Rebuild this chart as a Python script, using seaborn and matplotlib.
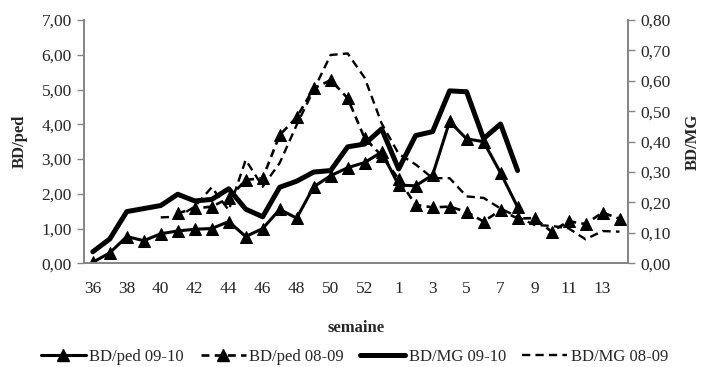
import numpy as np
import pandas as pd
import matplotlib
matplotlib.use("Agg")
import matplotlib.pyplot as plt
from matplotlib.ticker import FuncFormatter, FixedLocator, MultipleLocator
from matplotlib.lines import Line2D
import seaborn as sns

nan = np.nan
weeks = list(range(36, 54)) + list(range(1, 15))
tick_labels = [str(w) for w in weeks]

ped_0910 = [0.03, 0.30, 0.77, 0.65, 0.85, 0.93, 0.98, 1.00, 1.20, 0.77, 1.00, 1.55, 1.30,
            2.20, 2.52, 2.75, 2.90, 3.20, 2.25, 2.23, 2.54, 4.08, 3.58, 3.50, 2.60, 1.62] + [nan] * 6
ped_0809 = [nan] * 5 + [1.44, 1.58, 1.63, 1.87, 2.40, 2.45, 3.69, 4.20, 5.03, 5.27, 4.75, 3.60,
                        3.10, 2.42, 1.68, 1.61, 1.63, 1.48, 1.20, 1.53, 1.29, 1.30, 0.91, 1.21,
                        1.13, 1.46, 1.28]
mg_0910 = [0.038, 0.08, 0.17, 0.18, 0.19, 0.227, 0.205, 0.21, 0.245, 0.178, 0.153, 0.25, 0.27,
           0.30, 0.305, 0.383, 0.392, 0.442, 0.31, 0.42, 0.433, 0.567, 0.564, 0.41, 0.458,
           0.305] + [nan] * 6
mg_0809 = [nan] * 4 + [0.151, 0.153, 0.186, 0.25, 0.175, 0.34, 0.252, 0.33, 0.455, 0.57, 0.685,
                       0.69, 0.61, 0.46, 0.36, 0.325, 0.28, 0.28, 0.22, 0.215, 0.18, 0.153,
                       0.126, 0.123, 0.115, 0.079, 0.106, 0.104]

names = ["BD/ped 09-10", "BD/ped 08-09", "BD/MG 09-10", "BD/MG 08-09"]

sns.set_theme(style="white")
plt.rcParams['font.family'] = ['Liberation Serif', 'DejaVu Serif']

pos = np.arange(len(weeks))
df = pd.DataFrame({"pos": pos, "ped_0910": ped_0910, "ped_0809": ped_0809,
                   "mg_0910": mg_0910, "mg_0809": mg_0809})

fig = plt.figure(figsize=(7.09, 3.67), dpi=100)
ax = fig.add_axes([84.3 / 709, 1 - 263.3 / 367, (628 - 84.3) / 709, (263.3 - 20) / 367])
ax2 = ax.twinx()

gray = "#868686"
sty = {
    "ped_0910": dict(ax=ax, color="black", lw=2.2, linestyle="-", marker="^", markersize=8.5),
    "ped_0809": dict(ax=ax, color="black", lw=1.9, linestyle=(0, (3, 2)), marker="^", markersize=8.5),
    "mg_0910": dict(ax=ax2, color="black", lw=3.6, linestyle="-", marker=None),
    "mg_0809": dict(ax=ax2, color="black", lw=1.7, linestyle=(0, (3.5, 2.2)), marker=None),
}
for col in ["mg_0809", "ped_0809", "mg_0910", "ped_0910"]:
    s = sty[col]
    sub = df[["pos", col]].dropna()
    sns.lineplot(data=sub, x="pos", y=col, ax=s["ax"], color=s["color"], lw=s["lw"],
                 linestyle=s["linestyle"], marker=s["marker"], markersize=s.get("markersize", 0),
                 markeredgecolor="black", legend=False, sort=False)

for a in (ax, ax2):
    a.set_xlim(-0.5, len(weeks) - 0.5)
    for sp in a.spines.values():
        sp.set_color(gray)
        sp.set_linewidth(1.3)
    a.spines["top"].set_visible(False)
    a.grid(False)

ax.set_ylim(0, 7)
ax2.set_ylim(0, 0.8)
ax.yaxis.set_major_locator(MultipleLocator(1))
ax2.yaxis.set_major_locator(MultipleLocator(0.1))
fmt = FuncFormatter(lambda v, p: f"{v:.2f}".replace(".", ","))
ax.yaxis.set_major_formatter(fmt)
ax2.yaxis.set_major_formatter(fmt)

ax.set_xticks(pos[::2])
ax.set_xticklabels(tick_labels[::2])
ax.xaxis.set_minor_locator(FixedLocator(np.arange(-0.5, len(weeks), 1)))
ax.tick_params(axis="x", which="major", length=0, pad=13, labelsize=12.5)
ax.tick_params(axis="x", which="minor", length=5, width=1, color=gray, direction="out")
ax.tick_params(axis="y", which="major", length=5, width=1, color=gray, direction="out",
               labelsize=12.5, left=True, pad=4)
ax2.tick_params(axis="y", which="major", length=5, width=1, color=gray, direction="out",
                labelsize=12.5, right=True, pad=4)

ax.set_xlabel("semaine", fontsize=12, fontweight="bold", labelpad=16.5)
ax.set_ylabel("BD/ped", fontsize=12, fontweight="bold", labelpad=10)
ax2.set_ylabel("BD/MG", fontsize=12, fontweight="bold", labelpad=10)

handles = []
for col, nm in zip(["ped_0910", "ped_0809", "mg_0910", "mg_0809"], names):
    s = sty[col]
    handles.append(Line2D([], [], color="black", lw=s["lw"], linestyle=s["linestyle"],
                          marker=s["marker"], markersize=s.get("markersize", 0)))
fig.legend(handles, names, loc="center", bbox_to_anchor=(0.5, 1 - 357 / 367), ncol=4,
           frameon=False, fontsize=12, handlelength=2.7, handletextpad=0.2, columnspacing=1.0)

fig.savefig("out.png", dpi=100)
